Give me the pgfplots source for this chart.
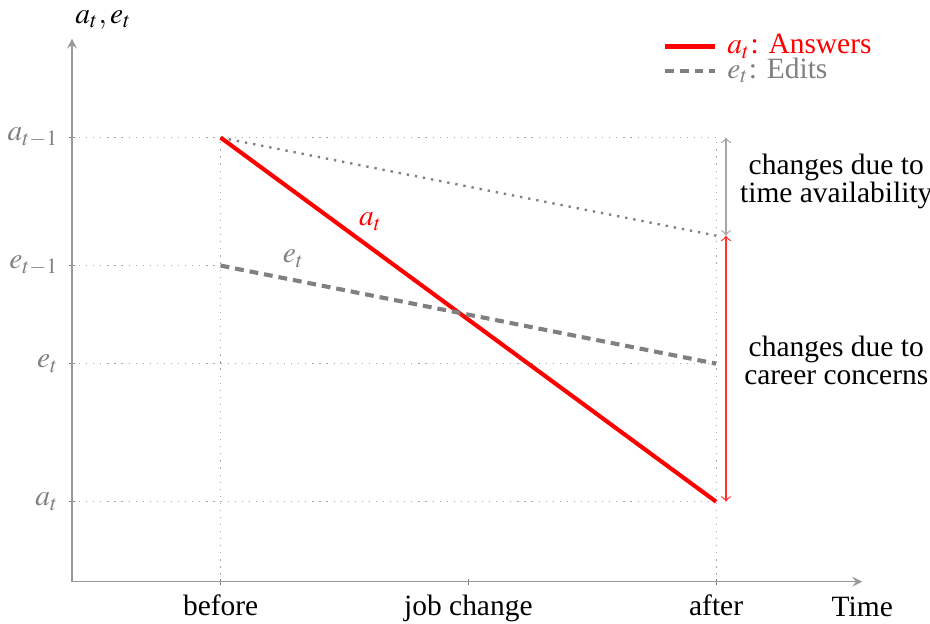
\documentclass[border=0pt]{standalone}
\usepackage{mathptmx}
\usepackage{fontspec}
\setmainfont{Liberation Serif}
\usepackage{pgfplots}
\pgfplotsset{compat=1.18}
\begin{document}
\begin{tikzpicture}
\begin{axis}[
  scale only axis, width=268.3pt, height=184.4pt,
  xmin=0.4, xmax=3.59, ymin=0, ymax=5.43,
  axis lines=left,
  axis line style={gray!80, line width=0.5pt},
  xtick={1,2,3}, xticklabels={before, job change, after},
  ytick={0.8,2.18,3.16,4.44}, yticklabels={$a_t$,$e_t$,$e_{t-1}$,$a_{t-1}$},
  yticklabel style={text=gray},
  tick style={gray, line width=0.4pt},
  major tick length=2pt,
  xlabel={Time},
  xlabel style={at={(axis description cs:1,0)}, anchor=north, inner sep=3.33pt, yshift=-1.7pt},
  clip=false,
  legend style={draw=none, fill=none, at={(1.0,1.0)}, anchor=north east, xshift=9.7pt, yshift=3.6pt,
    row sep=0pt, nodes={inner xsep=3.33pt, inner ysep=0.4pt, text height=6.2pt, text depth=1.2pt}},
  legend cell align=left,
]
% guide lines
\addplot[gray!70, dotted, line width=0.4pt, forget plot] coordinates {(0.4,4.44) (3,4.44)};
\addplot[gray!70, dotted, line width=0.4pt, forget plot] coordinates {(0.4,3.16) (1,3.16)};
\addplot[gray!70, dotted, line width=0.4pt, forget plot] coordinates {(0.4,2.18) (3,2.18)};
\addplot[gray!70, dotted, line width=0.4pt, forget plot] coordinates {(0.4,0.8) (3,0.8)};
\addplot[gray!70, dotted, line width=0.4pt, forget plot] coordinates {(1,0) (1,4.44)};
\addplot[gray!70, dotted, line width=0.4pt, forget plot] coordinates {(3,0) (3,4.44)};
\addplot[gray, dotted, line width=0.8pt, forget plot] coordinates {(1,4.44) (3,3.46)};
% data
\addplot[red, line width=1.4pt] coordinates {(1,4.44) (3,0.8)};
\addlegendentry{\textcolor{red}{$a_t$: Answers}}
\addplot[gray, line width=1.4pt, dash pattern=on 3pt off 2pt] coordinates {(1,3.16) (3,2.18)};
\addlegendentry{\textcolor{gray}{$e_t$: Edits}}
% arrows and notes
\draw[gray!70, <->] (axis cs:3.04,4.44) -- (axis cs:3.04,3.46);
\draw[red!80, <->] (axis cs:3.04,3.46) -- (axis cs:3.04,0.8);
\node[align=center, font=\fontsize{10}{9.5}\selectfont] at (axis cs:3.485,4.0) {changes due to\\time availability};
\node[align=center, font=\fontsize{10}{9.5}\selectfont] at (axis cs:3.485,2.21) {changes due to\\career concerns};
\node[text=red] at (axis cs:1.606,3.6) {$a_t$};
\node[text=gray] at (axis cs:1.295,3.23) {$e_t$};
\node[inner sep=1pt] at (axis cs:0.527,5.62) {$a_t,e_t$};
\end{axis}
\pgfresetboundingbox
\path[use as bounding box] (-24.45pt,-14.1pt) rectangle (291.3pt,197.5pt);
\end{tikzpicture}
\end{document}
